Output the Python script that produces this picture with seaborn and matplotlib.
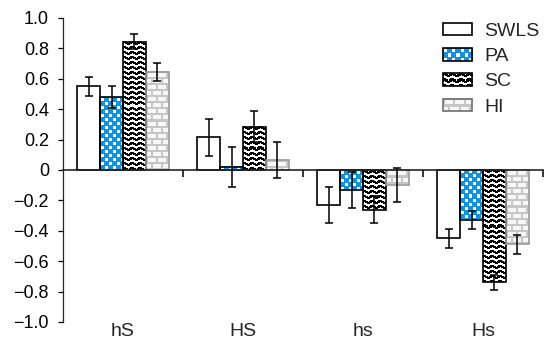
import numpy as np
import pandas as pd
import seaborn as sns
import matplotlib.pyplot as plt
from matplotlib.patches import Rectangle
from matplotlib.image import BboxImage
from matplotlib.transforms import Bbox, TransformedBbox
from matplotlib.legend_handler import HandlerBase

# datos
grupos = ['hS', 'HS', 'hs', 'Hs']
medidas = ['SWLS', 'PA', 'SC', 'HI']
swls = [0.55, 0.215, -0.23, -0.45]
pa = [0.48, 0.02, -0.13, -0.33]
sc = [0.845, 0.285, -0.26, -0.74]
hi = [0.645, 0.065, -0.10, -0.49]
swls_err = [0.065, 0.12, 0.12, 0.06]
pa_err = [0.07, 0.13, 0.12, 0.06]
sc_err = [0.05, 0.10, 0.09, 0.05]
hi_err = [0.06, 0.12, 0.11, 0.06]
y_ticks = [-1.0, -0.8, -0.6, -0.4, -0.2, 0, 0.2, 0.4, 0.6, 0.8, 1.0]

valores = [swls, pa, sc, hi]
errores = [swls_err, pa_err, sc_err, hi_err]

df = pd.DataFrame({
    'grupo': [g for v in valores for g in grupos],
    'medida': [m for m, v in zip(medidas, valores) for _ in v],
    'valor': [x for v in valores for x in v],
})

# texturas (mosaicos de pixeles)
AZUL = (0.08, 0.57, 0.86)
BLANCO = (1.0, 1.0, 1.0)
NEGRO = (0.0, 0.0, 0.0)
GRIS = (0.78, 0.78, 0.78)
LADRILLO = (0.97, 0.97, 0.97)

mosaicos = {
    'SWLS': (["0"], {'0': BLANCO}),
    'PA': (["00000000",
            "01110000",
            "01110000",
            "01110000",
            "00000000",
            "00000111",
            "00000111",
            "00000111"], {'0': AZUL, '1': BLANCO}),
    'SC': (["11100001",
            "11111011",
            "10111111",
            "00001110",
            "00000000"], {'0': BLANCO, '1': NEGRO}),
    'HI': (["gggggggggg",
            "gggggggggg",
            "ggwwwwwwww",
            "ggwwwwwwww",
            "ggwwwwwwww",
            "ggwwwwwwww",
            "gggggggggg",
            "gggggggggg",
            "wwwwwggwww",
            "wwwwwggwww",
            "wwwwwggwww",
            "wwwwwggwww"], {'g': GRIS, 'w': LADRILLO}),
}
bordes = {'SWLS': 'black', 'PA': 'black', 'SC': 'black', 'HI': '#9a9a9a'}
bordes_leyenda = {'SWLS': 'black', 'PA': 'black', 'SC': 'black', 'HI': '#707070'}


def textura(nombre, h, w):
    filas, cols = mosaicos[nombre]
    arr = np.array([[cols[c] for c in fila] for fila in filas], dtype=float)
    ry = h // arr.shape[0] + 1
    rx = w // arr.shape[1] + 1
    return np.tile(arr, (ry, rx, 1))[:h, :w]


class ManejadorTextura(HandlerBase):
    def __init__(self, nombre):
        super().__init__()
        self.nombre = nombre

    def create_artists(self, legend, orig_handle, xdescent, ydescent,
                       width, height, fontsize, trans):
        dpi = legend.figure.dpi
        pw = max(1, int(round(width * dpi / 72)))
        ph = max(1, int(round(height * dpi / 72)))
        bb = TransformedBbox(Bbox.from_bounds(-xdescent, -ydescent, width, height), trans)
        img = BboxImage(bb, interpolation='nearest')
        img.set_data(textura(self.nombre, ph, pw))
        rect = Rectangle((-xdescent, -ydescent), width, height, facecolor='none',
                         edgecolor=bordes_leyenda[self.nombre], linewidth=1.2, transform=trans)
        return [img, rect]


sns.set_theme(style='ticks')
plt.rcParams['font.family'] = ['Liberation Sans', 'DejaVu Sans']

fig = plt.figure(figsize=(5.44, 3.40), dpi=100)
ax = fig.add_axes([63 / 544, 18 / 340, 480 / 544, 304 / 340])

sns.barplot(data=df, x='grupo', y='valor', hue='medida', hue_order=medidas,
            order=grupos, palette=['white'] * 4, width=0.76, gap=0,
            edgecolor='black', linewidth=1.2, errorbar=None, legend=False, ax=ax)

ax.set_xlim(-0.5, 3.5)
ax.set_ylim(-1.0, 1.0)

for i, m in enumerate(medidas):
    for j, barra in enumerate(ax.containers[i]):
        x0, w = barra.get_x(), barra.get_width()
        y0, h = barra.get_y(), barra.get_height()
        bb = barra.get_window_extent()
        pw = max(1, int(round(bb.width)))
        ph = max(1, int(round(bb.height)))
        ax.imshow(textura(m, ph, pw), extent=(x0, x0 + w, min(y0, y0 + h), max(y0, y0 + h)),
                  aspect='auto', interpolation='nearest', zorder=1.5)
        barra.set_facecolor('none')
        barra.set_edgecolor(bordes[m])
        barra.set_zorder(2)
        ax.errorbar(x0 + w / 2, y0 + h, yerr=errores[i][j], color='black',
                    elinewidth=1.1, capsize=3, capthick=1.1, zorder=3)

ax.set_xlim(-0.5, 3.5)
ax.set_ylim(-1.0, 1.0)

# eje y (signo menos tipografico)
ax.set_yticks(y_ticks)
ax.set_yticklabels(['0' if t == 0 else f'{t:.1f}'.replace('-', '\u2212') for t in y_ticks])
ax.tick_params(axis='y', direction='out', length=3.5, width=0.9, pad=6.5, labelsize=13, colors='black')
ax.spines['left'].set_linewidth(0.9)
ax.spines['top'].set_visible(False)
ax.spines['right'].set_visible(False)

# linea del cero con marcas entre grupos
ax.spines['bottom'].set_position(('data', 0))
ax.spines['bottom'].set_linewidth(1.2)
ax.set_xticks([0.5, 1.5, 2.5, 3.5], minor=True)
ax.tick_params(axis='x', which='minor', direction='out', length=5, width=1.1, colors='black')
ax.tick_params(axis='x', which='major', length=0, labelbottom=False)
ax.set_xlabel('')
ax.set_ylabel('')

sec = ax.secondary_xaxis('bottom')
sec.set_xticks(range(len(grupos)), labels=grupos)
sec.tick_params(length=0, pad=1, labelsize=14)
sec.spines['bottom'].set_visible(False)

proxies = [Rectangle((0, 0), 1, 1) for _ in medidas]
ax.legend(proxies, medidas,
          handler_map={p: ManejadorTextura(m) for p, m in zip(proxies, medidas)},
          frameon=False, loc='upper left', bbox_to_anchor=(443 / 544, 1 - 23 / 340),
          bbox_transform=fig.transFigure, borderpad=0, borderaxespad=0,
          handlelength=1.5, handleheight=0.6, handletextpad=0.62,
          labelspacing=0.42, fontsize=14)

fig.savefig('out.png', dpi=100)
